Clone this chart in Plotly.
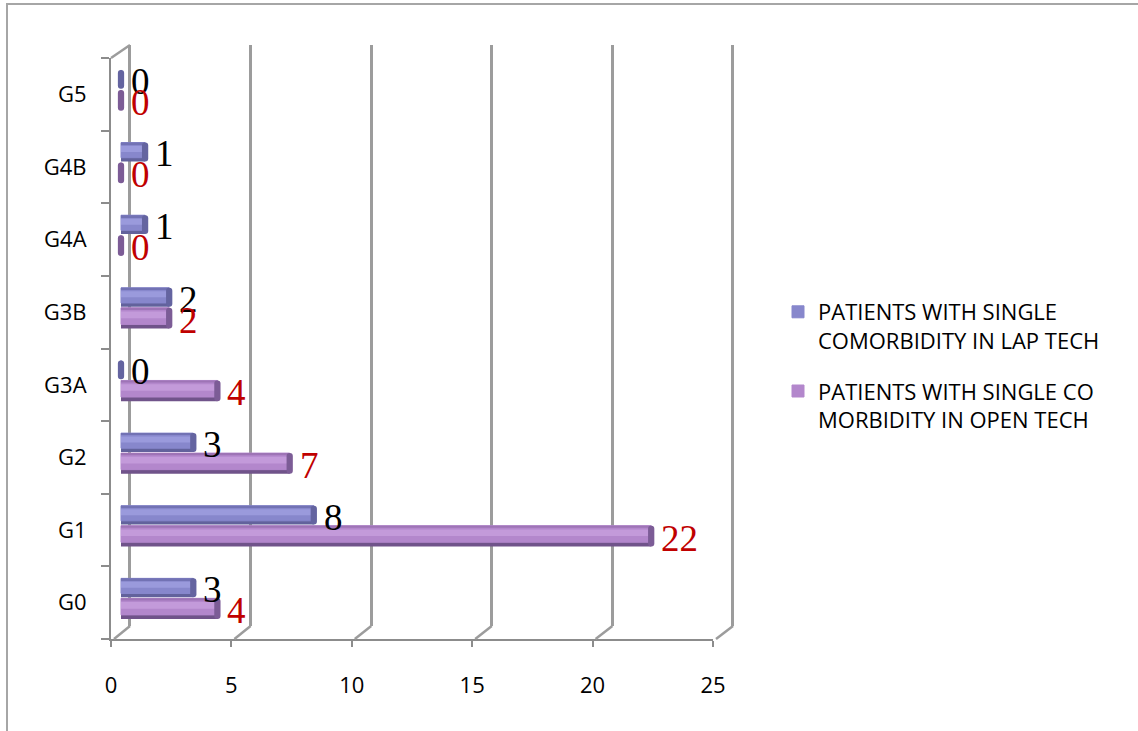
import plotly.graph_objects as go

# ---- data -------------------------------------------------------------
categories = ["G0", "G1", "G2", "G3A", "G3B", "G4A", "G4B", "G5"]
lap_tech = [3, 8, 3, 0, 2, 1, 1, 0]
open_tech = [4, 22, 7, 4, 2, 0, 0, 0]
x_ticks = [0, 5, 10, 15, 20, 25]
series_names = [
    "PATIENTS WITH SINGLE<br>COMORBIDITY IN LAP TECH",
    "PATIENTS WITH SINGLE CO<br>MORBIDITY IN OPEN TECH",
]

# ---- page geometry (pixels) -------------------------------------------
W, H = 1138, 731


def fx(px):
    return px / W


def fy(px):
    return 1 - px / H


X_MAX = 25
FRONT_L, FRONT_R = 111, 713          # front floor edge (tick labels)
FRONT_TOP, FRONT_BOT = 58, 639       # front edge of the left wall
BACK_L, BACK_R = 130, 733            # back wall
BACK_TOP, BACK_BOT = 45, 626
BAR_ZERO, BAR_UNIT = 121, 24.1       # plane the cylinders sit in
BAR_XMIN = -0.5
back_unit = (BACK_R - BACK_L) / X_MAX
front_unit = (FRONT_R - FRONT_L) / X_MAX
BACK_PAD = 0.2

FONT = "Open Sans"
LINE = "#8c8c8c"
GRID = "#9c9c9c"

# cylinder look for each series: thickness/offset in category units + shades
styles = [
    dict(offset=0.075, thick=0.26, dark="#62629c", body="#8787cc",
         light="#9a9adc", edge="#7272b4", cap="#6464a0",
         label="#000000", yshift=13),
    dict(offset=-0.225, thick=0.285, dark="#70538a", body="#b387cc",
         light="#c39ada", edge="#9e74b6", cap="#7c5c96",
         label="#c00000", yshift=-8),
]
CAP_LEN = 0.26

fig = go.Figure()

# empty traces so the front and back frame axes are laid out
fig.add_trace(go.Scatter(x=[None], y=[None], xaxis="x", yaxis="y",
                         showlegend=False, hoverinfo="skip"))
fig.add_trace(go.Scatter(x=[None], y=[None], xaxis="x2", yaxis="y2",
                         showlegend=False, hoverinfo="skip"))

for name, vals, st in zip(series_names, [lap_tech, open_tech], styles):
    o, t = st["offset"], st["thick"]
    common = dict(y=categories, orientation="h", xaxis="x3", yaxis="y",
                  hoverinfo="skip", legendgroup=name)
    # shaded underside
    fig.add_trace(go.Bar(x=vals, offset=o, width=t,
                         marker=dict(color=st["dark"], line=dict(width=0)),
                         showlegend=False, **common))
    # main body (also carries the legend entry)
    fig.add_trace(go.Bar(x=vals, offset=o + 0.2 * t, width=0.8 * t, name=name,
                         marker=dict(color=st["body"],
                                     line=dict(color=st["body"], width=1)),
                         showlegend=True, **common))
    # soft highlight across the upper half
    fig.add_trace(go.Bar(x=vals, offset=o + 0.5 * t, width=0.32 * t,
                         marker=dict(color=st["light"], line=dict(width=0)),
                         showlegend=False, **common))
    # thin upper rim
    fig.add_trace(go.Bar(x=vals, offset=o + 0.9 * t, width=0.1 * t,
                         marker=dict(color=st["edge"], line=dict(width=0)),
                         showlegend=False, **common))
    # rounded end cap of the cylinder
    fig.add_trace(go.Bar(x=[CAP_LEN] * len(vals),
                         base=[v - CAP_LEN / 2 for v in vals],
                         offset=o, width=t,
                         marker=dict(color=st["cap"], cornerradius="50%",
                                     line=dict(width=0)),
                         showlegend=False, **common))

# value labels next to the cylinder ends
annotations = []
for vals, st in zip([lap_tech, open_tech], styles):
    for cat, v in zip(categories, vals):
        annotations.append(dict(
            x=v, y=cat, xref="x3", yref="y", text=str(v), showarrow=False,
            xanchor="left", yanchor="middle", xshift=8, yshift=st["yshift"],
            font=dict(family="Liberation Serif", size=37, color=st["label"]),
        ))

# floor diagonals joining front ticks to back gridlines, wall top edge, frame
shapes = []
for v in x_ticks:
    fxp = FRONT_L + v * front_unit
    bxp = BACK_L + v * back_unit
    shapes.append(dict(type="line", xref="paper", yref="paper",
                       x0=fx(fxp + 3), y0=fy(FRONT_BOT), x1=fx(bxp), y1=fy(BACK_BOT),
                       line=dict(color=GRID, width=2.5)))
shapes.append(dict(type="line", xref="paper", yref="paper",
                   x0=fx(FRONT_L), y0=fy(FRONT_TOP), x1=fx(BACK_L), y1=fy(BACK_TOP),
                   line=dict(color=GRID, width=2.5)))
shapes.append(dict(type="rect", xref="paper", yref="paper",
                   x0=fx(7), y0=-0.05, x1=1.05, y1=fy(4),
                   line=dict(color="#a6a6a6", width=2), layer="below"))

fig.update_layout(
    width=W, height=H, autosize=False,
    margin=dict(l=0, r=0, t=0, b=0, autoexpand=False),
    paper_bgcolor="white", plot_bgcolor="rgba(0,0,0,0)",
    barmode="overlay",
    font=dict(family=FONT, color="#000000"),
    showlegend=True,
    legend=dict(
        x=fx(778), y=fy(291), xanchor="left", yanchor="top",
        font=dict(family=FONT, size=22, color="#000000"),
        valign="top", tracegroupgap=19, traceorder="grouped",
        bgcolor="rgba(0,0,0,0)",
    ),
    # front axis: numbers along the floor edge
    xaxis=dict(
        domain=[fx(FRONT_L), fx(FRONT_R)], range=[0, X_MAX], anchor="y",
        tickvals=x_ticks, ticks="outside", ticklen=6, tickwidth=2, tickcolor=LINE,
        showline=True, linecolor=LINE, linewidth=2, showgrid=False, zeroline=False,
        tickfont=dict(family=FONT, size=22, color="#000000"), ticklabelstandoff=20,
    ),
    # front category axis (left wall edge)
    yaxis=dict(
        domain=[fy(FRONT_BOT), fy(FRONT_TOP)], anchor="x",
        type="category", categoryorder="array", categoryarray=categories,
        range=[-0.5, len(categories) - 0.5],
        tickson="boundaries", ticks="outside", ticklen=8, tickwidth=2, tickcolor=LINE,
        showline=True, linecolor=LINE, linewidth=2, showgrid=False,
        tickfont=dict(family=FONT, size=22, color="#000000"), ticklabelstandoff=18,
    ),
    # back wall gridlines
    xaxis2=dict(
        domain=[fx(BACK_L - BACK_PAD * back_unit), fx(BACK_R + BACK_PAD * back_unit)],
        range=[-BACK_PAD, X_MAX + BACK_PAD], anchor="y2",
        tickvals=x_ticks, showgrid=True, gridcolor=GRID, gridwidth=3,
        showticklabels=False, ticks="", zeroline=False, showline=False,
    ),
    yaxis2=dict(domain=[fy(BACK_BOT), fy(BACK_TOP)], anchor="x2",
                range=[0, 1], showgrid=False, showticklabels=False,
                zeroline=False, showline=False, ticks=""),
    # plane of the cylinders
    xaxis3=dict(
        domain=[fx(BAR_ZERO + BAR_XMIN * BAR_UNIT), fx(BAR_ZERO + X_MAX * BAR_UNIT)],
        range=[BAR_XMIN, X_MAX], anchor="y", visible=False,
        showgrid=False, zeroline=False,
    ),
    annotations=annotations,
    shapes=shapes,
)

fig.write_html("out.html")
